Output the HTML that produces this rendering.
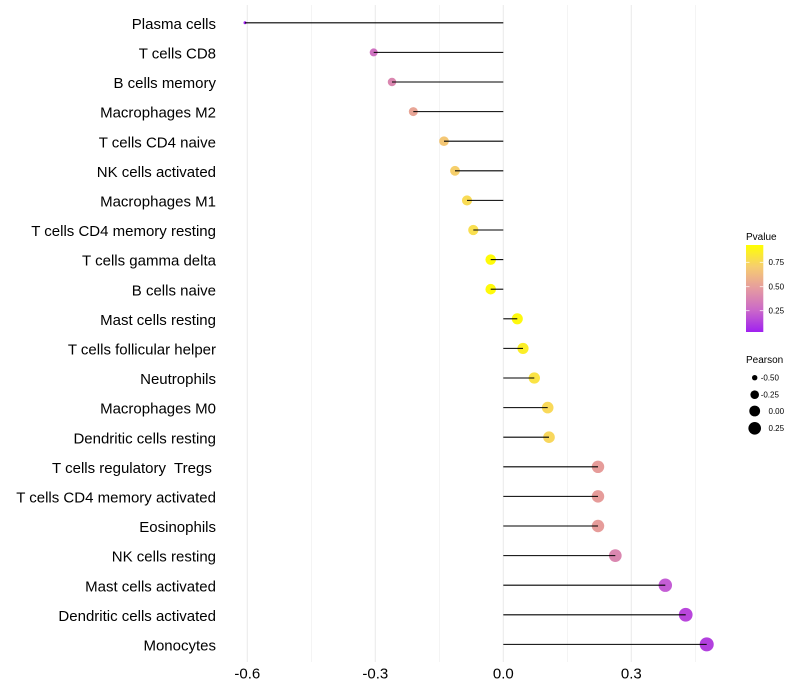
<!DOCTYPE html>
<html><head><meta charset="utf-8"><style>
html,body{margin:0;padding:0;background:#fff;}
svg{display:block;}
text{font-family:"Liberation Sans",Arial,sans-serif;}
</style></head><body>
<svg width="800" height="700" viewBox="0 0 800 700" xmlns="http://www.w3.org/2000/svg">
<defs>
<linearGradient id="pg" x1="0" y1="0" x2="0" y2="1">
<stop offset="0" stop-color="#FFFF00"/>
<stop offset="0.125" stop-color="#FAE63A"/>
<stop offset="0.25" stop-color="#F6CD6F"/>
<stop offset="0.375" stop-color="#EEB488"/>
<stop offset="0.5" stop-color="#E59BA0"/>
<stop offset="0.625" stop-color="#D882B4"/>
<stop offset="0.75" stop-color="#CA68C9"/>
<stop offset="0.875" stop-color="#B545DC"/>
<stop offset="1" stop-color="#A020F0"/>
</linearGradient>
</defs>
<rect width="800" height="700" fill="#fff"/>
<!-- grid -->
<g stroke="#EBEBEB">
<line x1="311.3" y1="5" x2="311.3" y2="662" stroke-width="0.55"/>
<line x1="439.3" y1="5" x2="439.3" y2="662" stroke-width="0.55"/>
<line x1="567.3" y1="5" x2="567.3" y2="662" stroke-width="0.55"/>
<line x1="695.3" y1="5" x2="695.3" y2="662" stroke-width="0.55"/>
<line x1="247.3" y1="5" x2="247.3" y2="662" stroke-width="1.07"/>
<line x1="375.3" y1="5" x2="375.3" y2="662" stroke-width="1.07"/>
<line x1="503.3" y1="5" x2="503.3" y2="662" stroke-width="1.07"/>
<line x1="631.3" y1="5" x2="631.3" y2="662" stroke-width="1.07"/>
</g>
<!-- points -->
<g>
<circle cx="245" cy="22.8" r="1.5" fill="#A020F0"/>
<circle cx="373.7" cy="52.4" r="4.0" fill="#CF72C1"/>
<circle cx="392" cy="82.0" r="4.24" fill="#DA87B0"/>
<circle cx="413.3" cy="111.6" r="4.48" fill="#E8A596"/>
<circle cx="444" cy="141.2" r="4.82" fill="#F4C775"/>
<circle cx="455" cy="170.8" r="4.93" fill="#F6CF6B"/>
<circle cx="467" cy="200.4" r="5.05" fill="#F9DB55"/>
<circle cx="473.3" cy="230.0" r="5.12" fill="#F9DF50"/>
<circle cx="490.7" cy="259.6" r="5.28" fill="#FFFB08"/>
<circle cx="490.7" cy="289.2" r="5.28" fill="#FFFA0A"/>
<circle cx="517.3" cy="318.8" r="5.53" fill="#FEF90D"/>
<circle cx="523" cy="348.4" r="5.58" fill="#FBEE28"/>
<circle cx="534.3" cy="378.0" r="5.68" fill="#FAE345"/>
<circle cx="547.7" cy="407.6" r="5.8" fill="#F9D95A"/>
<circle cx="549" cy="437.2" r="5.81" fill="#F8D75D"/>
<circle cx="598" cy="466.8" r="6.22" fill="#E69C9A"/>
<circle cx="598" cy="496.4" r="6.22" fill="#E69C9A"/>
<circle cx="598" cy="526.0" r="6.22" fill="#E69C9A"/>
<circle cx="615.3" cy="555.6" r="6.35" fill="#DA87B0"/>
<circle cx="665.3" cy="585.2" r="6.73" fill="#C45DD5"/>
<circle cx="685.7" cy="614.8" r="6.88" fill="#B946DC"/>
<circle cx="706.7" cy="644.4" r="7.03" fill="#B240DE"/>
</g>
<!-- segments -->
<g stroke="#000" stroke-width="1.07">
<line x1="245" y1="22.8" x2="503.3" y2="22.8"/>
<line x1="373.7" y1="52.4" x2="503.3" y2="52.4"/>
<line x1="392" y1="82.0" x2="503.3" y2="82.0"/>
<line x1="413.3" y1="111.6" x2="503.3" y2="111.6"/>
<line x1="444" y1="141.2" x2="503.3" y2="141.2"/>
<line x1="455" y1="170.8" x2="503.3" y2="170.8"/>
<line x1="467" y1="200.4" x2="503.3" y2="200.4"/>
<line x1="473.3" y1="230.0" x2="503.3" y2="230.0"/>
<line x1="490.7" y1="259.6" x2="503.3" y2="259.6"/>
<line x1="490.7" y1="289.2" x2="503.3" y2="289.2"/>
<line x1="503.3" y1="318.8" x2="517.3" y2="318.8"/>
<line x1="503.3" y1="348.4" x2="523" y2="348.4"/>
<line x1="503.3" y1="378.0" x2="534.3" y2="378.0"/>
<line x1="503.3" y1="407.6" x2="547.7" y2="407.6"/>
<line x1="503.3" y1="437.2" x2="549" y2="437.2"/>
<line x1="503.3" y1="466.8" x2="598" y2="466.8"/>
<line x1="503.3" y1="496.4" x2="598" y2="496.4"/>
<line x1="503.3" y1="526.0" x2="598" y2="526.0"/>
<line x1="503.3" y1="555.6" x2="615.3" y2="555.6"/>
<line x1="503.3" y1="585.2" x2="665.3" y2="585.2"/>
<line x1="503.3" y1="614.8" x2="685.7" y2="614.8"/>
<line x1="503.3" y1="644.4" x2="706.7" y2="644.4"/>
</g>
<!-- y labels -->
<g font-size="15" fill="#000" text-anchor="end" transform="translate(0,0.8)">
<text x="216" y="28.1">Plasma cells</text>
<text x="216" y="57.7">T cells CD8</text>
<text x="216" y="87.3">B cells memory</text>
<text x="216" y="116.9">Macrophages M2</text>
<text x="216" y="146.5">T cells CD4 naive</text>
<text x="216" y="176.1">NK cells activated</text>
<text x="216" y="205.7">Macrophages M1</text>
<text x="216" y="235.3">T cells CD4 memory resting</text>
<text x="216" y="264.9">T cells gamma delta</text>
<text x="216" y="294.5">B cells naive</text>
<text x="216" y="324.1">Mast cells resting</text>
<text x="216" y="353.7">T cells follicular helper</text>
<text x="216" y="383.3">Neutrophils</text>
<text x="216" y="412.9">Macrophages M0</text>
<text x="216" y="442.5">Dendritic cells resting</text>
<text x="216" y="472.1" xml:space="preserve" style="white-space:pre">T cells regulatory  Tregs </text>
<text x="216" y="501.7">T cells CD4 memory activated</text>
<text x="216" y="531.3">Eosinophils</text>
<text x="216" y="560.9">NK cells resting</text>
<text x="216" y="590.5">Mast cells activated</text>
<text x="216" y="620.1">Dendritic cells activated</text>
<text x="216" y="649.7">Monocytes</text>
</g>
<!-- x labels -->
<g font-size="15" fill="#000" text-anchor="middle">
<text x="247.3" y="678.6">-0.6</text>
<text x="375.3" y="678.6">-0.3</text>
<text x="503.3" y="678.6">0.0</text>
<text x="631.3" y="678.6">0.3</text>
</g>
<!-- legend Pvalue -->
<text x="746" y="240" font-size="10" fill="#000">Pvalue</text>
<rect x="746" y="245" width="17.3" height="87" fill="url(#pg)"/>
<g stroke="#fff" stroke-width="0.8" opacity="0.9">
<line x1="746" y1="262.3" x2="749.5" y2="262.3"/><line x1="759.8" y1="262.3" x2="763.3" y2="262.3"/>
<line x1="746" y1="286.7" x2="749.5" y2="286.7"/><line x1="759.8" y1="286.7" x2="763.3" y2="286.7"/>
<line x1="746" y1="310.7" x2="749.5" y2="310.7"/><line x1="759.8" y1="310.7" x2="763.3" y2="310.7"/>
</g>
<g font-size="8" fill="#000">
<text x="768.5" y="265.2">0.75</text>
<text x="768.5" y="289.6">0.50</text>
<text x="768.5" y="313.6">0.25</text>
</g>
<!-- legend Pearson -->
<text x="746" y="363" font-size="10" fill="#000">Pearson</text>
<g fill="#000">
<circle cx="754.7" cy="377.7" r="2.7"/>
<circle cx="754.7" cy="394.7" r="4.29"/>
<circle cx="754.7" cy="411" r="5.4"/>
<circle cx="754.7" cy="428.3" r="6.31"/>
</g>
<g font-size="8" fill="#000">
<text x="760.7" y="380.6">-0.50</text>
<text x="760.7" y="397.6">-0.25</text>
<text x="768.5" y="413.9">0.00</text>
<text x="768.5" y="431.2">0.25</text>
</g>
</svg>
</body></html>
